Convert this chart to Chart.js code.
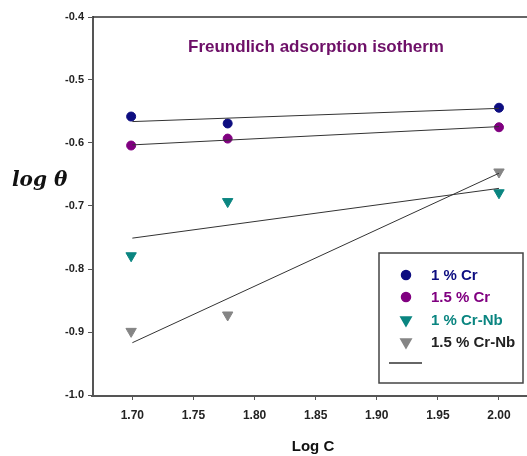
<!DOCTYPE html>
<html>
<head>
<meta charset="utf-8">
<script src="https://cdn.jsdelivr.net/npm/chart.js@4/dist/chart.umd.min.js"></script>
<style>
  body { margin: 0; background: #fff; }
  #wrap { width: 527px; height: 456px; }
</style>
</head>
<body>
<div id="wrap"><canvas id="myChart" width="527" height="456"></canvas></div>
<script>
// log C values (log 50, log 60, log 100)
const logC = [1.699, 1.778, 2.0];

// log theta for each alloy
const cr1 = [-0.558, -0.569, -0.544];
const cr15 = [-0.604, -0.593, -0.575];
const crNb1 = [-0.779, -0.693, -0.679];
const crNb15 = [-0.899, -0.873, -0.646];

// fitted lines, ends
const fitX = [1.70, 2.00];
const fitCr1 = [-0.566, -0.545];
const fitCr15 = [-0.603, -0.574];
const fitCrNb1 = [-0.751, -0.672];
const fitCrNb15 = [-0.917, -0.648];

const seriesNames = ['1 % Cr', '1.5 % Cr', '1 % Cr-Nb', '1.5 % Cr-Nb'];
const seriesColors = ['#0d0d80', '#800080', '#0a8580', '#858585'];
const legendTextColors = ['#0d0d80', '#800080', '#0a8580', '#222222'];

const xTicks = [1.70, 1.75, 1.80, 1.85, 1.90, 1.95, 2.00];
const xTickLabels = ['1.70', '1.75', '1.80', '1.85', '1.90', '1.95', '2.00'];
const yTicks = [-1.0, -0.9, -0.8, -0.7, -0.6, -0.5, -0.4];
const yTickLabels = ['-1.0', '-0.9', '-0.8', '-0.7', '-0.6', '-0.5', '-0.4'];

const chartTitle = 'Freundlich adsorption isotherm';
const xTitle = 'Log C';
const yTitle = 'log θ';

function pts(xs, ys) {
  return xs.map((x, i) => ({ x: x, y: ys[i] }));
}

function fitLine(ys) {
  return {
    data: pts(fitX, ys),
    showLine: true,
    borderColor: '#333',
    borderWidth: 1,
    pointRadius: 0,
    fill: false
  };
}

function markerSet(i, ys, style) {
  return {
    label: seriesNames[i],
    data: pts(logC, ys),
    backgroundColor: seriesColors[i],
    borderColor: seriesColors[i],
    pointStyle: style,
    pointRadius: style === 'circle' ? 4.5 : 6,
    pointRotation: style === 'triangle' ? 180 : 0,
    borderWidth: 1
  };
}

const extras = {
  id: 'extras',
  afterDatasetsDraw(chart) {
    const ctx = chart.ctx;
    const a = chart.chartArea;
    ctx.save();

    // top frame line and bottom axis, both run off the right edge
    ctx.strokeStyle = '#333';
    ctx.lineWidth = 1.5;
    ctx.beginPath();
    ctx.moveTo(a.left, a.top);
    ctx.lineTo(527, a.top);
    ctx.stroke();
    ctx.strokeStyle = '#555';
    ctx.lineWidth = 2;
    ctx.beginPath();
    ctx.moveTo(a.left - 2, a.bottom + 1);
    ctx.lineTo(527, a.bottom + 1);
    ctx.stroke();

    // title
    ctx.fillStyle = '#6e1068';
    ctx.font = 'bold 17px "Liberation Sans", Arial, sans-serif';
    ctx.textAlign = 'center';
    ctx.textBaseline = 'middle';
    ctx.fillText(chartTitle, 316, 47);

    // axis titles
    ctx.fillStyle = '#111';
    ctx.font = 'bold 15px "Liberation Sans", Arial, sans-serif';
    ctx.fillText(xTitle, 313, 447);

    ctx.font = 'italic bold 20px "DejaVu Serif", serif';
    ctx.textAlign = 'left';
    ctx.fillText(yTitle, 12, 181);

    // legend box
    ctx.fillStyle = '#fff';
    ctx.fillRect(379, 253, 144, 130);
    ctx.strokeStyle = '#444';
    ctx.lineWidth = 1.5;
    ctx.strokeRect(379, 253, 144, 130);

    const rows = [275, 297, 320, 342];
    const styles = ['circle', 'circle', 'triangle', 'triangle'];
    ctx.font = 'bold 15px "Liberation Sans", Arial, sans-serif';
    ctx.textBaseline = 'middle';
    for (let i = 0; i < 4; i++) {
      ctx.fillStyle = seriesColors[i];
      ctx.strokeStyle = seriesColors[i];
      Chart.helpers.drawPoint(ctx, {
        pointStyle: styles[i],
        radius: styles[i] === 'circle' ? 4.5 : 6,
        rotation: styles[i] === 'triangle' ? 180 : 0,
        borderWidth: 1
      }, 406, rows[i]);
      ctx.fillStyle = legendTextColors[i];
      ctx.textAlign = 'left';
      ctx.fillText(seriesNames[i], 431, rows[i] + 1);
    }
    ctx.strokeStyle = '#333';
    ctx.lineWidth = 1.5;
    ctx.beginPath();
    ctx.moveTo(389, 363);
    ctx.lineTo(422, 363);
    ctx.stroke();

    ctx.restore();
  }
};

const config = {
  type: 'scatter',
  data: {
    datasets: [
      fitLine(fitCr1),
      fitLine(fitCr15),
      fitLine(fitCrNb1),
      fitLine(fitCrNb15),
      markerSet(0, cr1, 'circle'),
      markerSet(1, cr15, 'circle'),
      markerSet(2, crNb1, 'triangle'),
      markerSet(3, crNb15, 'triangle')
    ]
  },
  options: {
    responsive: false,
    animation: false,
    layout: { padding: { top: 17, left: 0, right: 0, bottom: 0 } },
    plugins: {
      legend: { display: false },
      tooltip: { enabled: false }
    },
    scales: {
      x: {
        type: 'linear',
        min: 1.6678,
        max: 2.0172,
        afterBuildTicks: s => { s.ticks = xTicks.map(v => ({ value: v })); },
        afterFit: s => { s.height = 61; s.paddingLeft = 0; s.paddingRight = 0; },
        ticks: {
          callback: (v, i) => xTickLabels[i],
          color: '#222',
          font: { family: '"Liberation Sans", Arial, sans-serif', size: 12, weight: 'bold' },
          padding: 8,
          maxRotation: 0
        },
        grid: { drawOnChartArea: false, drawTicks: true, tickLength: 5, color: '#555' },
        border: { display: false }
      },
      y: {
        type: 'linear',
        min: -1.0,
        max: -0.4,
        afterBuildTicks: s => { s.ticks = yTicks.map(v => ({ value: v })); },
        afterFit: s => { s.width = 93; s.paddingTop = 0; s.paddingBottom = 0; },
        ticks: {
          callback: (v, i) => yTickLabels[i],
          color: '#222',
          font: { family: '"Liberation Sans", Arial, sans-serif', size: 11, weight: 'bold' },
          padding: 4
        },
        grid: { drawOnChartArea: false, drawTicks: true, tickLength: 5, color: '#555' },
        border: { display: true, color: '#555', width: 2 }
      }
    }
  },
  plugins: [extras]
};

var myChart = new Chart(document.getElementById('myChart'), config);
</script>
</body>
</html>
